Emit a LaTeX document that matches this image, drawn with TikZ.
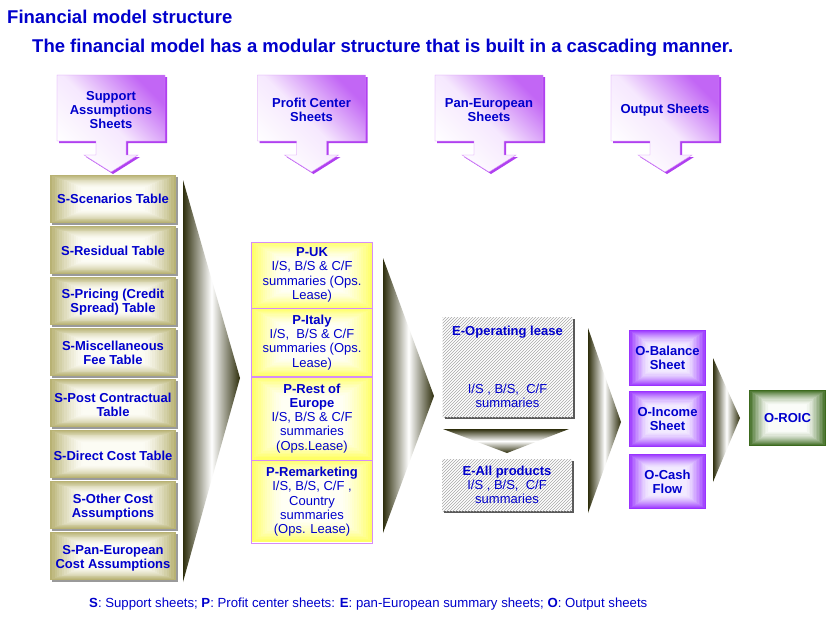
\documentclass[tikz,border=0pt]{standalone}
\usepackage{fontspec}
\setmainfont{Liberation Sans}
\usepackage{xcolor}
\usepackage{tikz}
\usetikzlibrary{positioning, patterns, shadows}
\definecolor{fmblue}{HTML}{0000CC}
\definecolor{fmviolet}{HTML}{C266F5}
\definecolor{fmvioletedge}{HTML}{B040F0}
\definecolor{fmpink}{HTML}{D68CF8}
\definecolor{fmkhaki}{HTML}{B8B274}
\definecolor{fmkhakilight}{HTML}{FCFCF4}
\definecolor{fmyellow}{HTML}{FFFF66}
\definecolor{fmyellowlight}{HTML}{FFFFF4}
\definecolor{fmpurple}{HTML}{9933FF}
\definecolor{fmpurplelight}{HTML}{F2EAFF}
\definecolor{fmgreen}{HTML}{3C6A1E}
\definecolor{fmgreenlight}{HTML}{FAFCF8}
\definecolor{fmdark}{HTML}{2E2E0C}
\definecolor{fmhatch}{HTML}{A8A8A8}
\definecolor{fmshadow}{HTML}{9A9A9A}

% soft bevelled box: x1, y1, x2, y2, edge colour, centre colour
\newcommand{\bevelrect}[6]{%
    \foreach \k in {0,...,24} {
        \pgfmathsetmacro\bvt{max(0,1-\k/14)}
        \pgfmathtruncatemacro\bvmix{100*\bvt*sqrt(\bvt)}
        \pgfmathsetmacro\bvdx{((#3)-(#1))*0.45*\k/24}
        \pgfmathsetmacro\bvdy{((#4)-(#2))*0.45*\k/24}
        \colorlet{bvtmp}{#5!\bvmix!#6}
        \fill[bvtmp] ({(#1)+\bvdx},{(#2)+\bvdy}) -- ({(#3)-\bvdx},{(#2)+\bvdy}) -- ({(#3)-\bvdx},{(#4)-\bvdy}) -- ({(#1)+\bvdx},{(#4)-\bvdy}) -- cycle;
    }}

\begin{document}
\begin{tikzpicture}[x=1pt, y=-1pt,
    hdtext/.style={align=center, font=\bfseries\fontsize{13}{14}\selectfont, text=fmblue},
    sbox/.style={rectangle, minimum width=126pt, minimum height=48pt, inner sep=1pt,
        align=center, font=\bfseries\fontsize{13}{14}\selectfont, text=fmblue},
    pbox/.style={rectangle, draw=fmpink, minimum width=121pt, inner sep=0pt, align=center,
        font=\fontsize{13}{14.3}\selectfont, text=fmblue},
    ebox/.style={rectangle, minimum width=130pt, inner sep=0pt,
        drop shadow={shadow xshift=2pt, shadow yshift=-2pt, fill=black!65, opacity=1},
        preaction={fill=white}, pattern=north east lines, pattern color=fmhatch,
        align=center, font=\fontsize{13}{14.3}\selectfont, text=fmblue},
    obox/.style={rectangle, minimum width=77pt, minimum height=56pt, inner sep=0pt,
        align=center, font=\bfseries\fontsize{13}{14}\selectfont, text=fmblue},
    funnel/.style={left color=fmdark, right color=fmdark, middle color=white}
]
    \useasboundingbox (0,0) rectangle (830,619);
    \fill[white] (0,0) rectangle (830,619);

    % Title
    \node[anchor=west, font=\bfseries\fontsize{18.5}{20}\selectfont, text=fmblue, inner sep=0pt] (title) at (7,17) {Financial model structure};
    \node[anchor=west, font=\bfseries\fontsize{18.5}{20}\selectfont, text=fmblue, inner sep=0pt] (subtitle) at (32,48) {The financial model has a modular structure that is built in a cascading manner.};

    % Header callouts
    \foreach \cx/\nm/\txt in {111/sup/{Support\\Assumptions\\Sheets}, 311.5/prof/{Profit Center\\Sheets}, 489/pan/{Pan-European\\Sheets}, 665/out/{Output Sheets}} {
        \fill[fmvioletedge, shift={(2,2)}] ({\cx-54},75) -- ({\cx+54},75) -- ({\cx+54},141) -- ({\cx+15},141) -- ({\cx+15},155) -- ({\cx+27},155) -- (\cx,172) -- ({\cx-27},155) -- ({\cx-15},155) -- ({\cx-15},141) -- ({\cx-54},141) -- cycle;
        \draw[fmpink, top color=fmviolet, bottom color=white, middle color=fmviolet!15, shading angle=-45] ({\cx-54},75) -- ({\cx+54},75) -- ({\cx+54},141) -- ({\cx+15},141) -- ({\cx+15},155) -- ({\cx+27},155) -- (\cx,172) -- ({\cx-27},155) -- ({\cx-15},155) -- ({\cx-15},141) -- ({\cx-54},141) -- cycle;
        \node[hdtext] (hd\nm) at (\cx,110) {\txt};
    }

    % Support sheets
    \foreach \i in {0,...,7} {
        \fill[fmshadow] (52,177+51*\i) rectangle (178,225+51*\i);
        \bevelrect{50}{175+51*\i}{176}{223+51*\i}{fmkhaki}{fmkhakilight}
    }
    \node[sbox] (sscen) at (113,199) {S-Scenarios Table};
    \node[sbox, below=3pt of sscen] (sresid) {S-Residual Table};
    \node[sbox, below=3pt of sresid] (spric) {S-Pricing (Credit\\Spread) Table};
    \node[sbox, below=3pt of spric] (smisc) {S-Miscellaneous\\Fee Table};
    \node[sbox, below=3pt of smisc] (spost) {S-Post Contractual\\Table};
    \node[sbox, below=3pt of spost] (sdirect) {S-Direct Cost Table};
    \node[sbox, below=3pt of sdirect] (sother) {S-Other Cost\\Assumptions};
    \node[sbox, below=3pt of sother] (span) {S-Pan-European\\Cost Assumptions};

    % Funnel 1
    \shade[funnel] (183,180) -- (240,378) -- (183,582) -- cycle;

    % Profit center sheets
    \bevelrect{251.5}{242}{372.5}{308}{fmyellow}{fmyellowlight}
    \bevelrect{251.5}{308}{372.5}{376}{fmyellow}{fmyellowlight}
    \bevelrect{251.5}{376}{372.5}{459}{fmyellow}{fmyellowlight}
    \bevelrect{251.5}{459}{372.5}{542}{fmyellow}{fmyellowlight}
    \node[pbox, minimum height=66pt] (puk) at (312,275) {\textbf{P-UK}\\I/S, B/S \& C/F\\summaries (Ops.\\Lease)};
    \node[pbox, minimum height=68pt, below=0pt of puk] (pit) {\textbf{P-Italy}\\I/S,\ \ B/S \& C/F\\summaries (Ops.\\Lease)};
    \node[pbox, minimum height=83pt, below=0pt of pit] (prest) {\textbf{P-Rest of}\\\textbf{Europe}\\I/S, B/S \& C/F\\summaries\\(Ops.Lease)};
    \node[pbox, minimum height=83pt, below=0pt of prest] (prem) {\textbf{P-Remarketing}\\I/S, B/S, C/F\ ,\\Country\\summaries\\(Ops. Lease)};

    % Funnel 2
    \shade[funnel] (383,258) -- (434,396) -- (383,533) -- cycle;

    % Pan-European sheets
    \node[ebox, minimum height=100pt] (eop) at (507.5,367) {\textbf{E-Operating lease}\\[43.5pt]I/S , B/S,\ \ C/F\\summaries};
    \shade[top color=fmdark, bottom color=fmdark, middle color=white] (443,429) -- (569,429) -- (507,453) -- cycle;
    \node[ebox, minimum height=52pt] (eall) at (507,485) {\textbf{E-All products}\\I/S , B/S,\ \ C/F\\summaries};

    % Funnel 3
    \shade[funnel] (588,328) -- (621,422) -- (588,513) -- cycle;

    % Output sheets
    \bevelrect{629}{330}{706}{386}{fmpurple}{fmpurplelight}
    \bevelrect{629}{391}{706}{447}{fmpurple}{fmpurplelight}
    \bevelrect{629}{454}{706}{509}{fmpurple}{fmpurplelight}
    \node[obox] (obal) at (667.5,358) {O-Balance\\Sheet};
    \node[obox] (oinc) at (667.5,419) {O-Income\\Sheet};
    \node[obox, minimum height=55pt] (ocash) at (667.5,481.5) {O-Cash\\Flow};

    % Funnel 4
    \shade[funnel] (713,358) -- (740,418) -- (713,482) -- cycle;

    \bevelrect{749}{390}{826}{446}{fmgreen}{fmgreenlight}
    \node[obox] (roic) at (787.5,418) {O-ROIC};

    % Legend
    \node[anchor=west, font=\fontsize{13.2}{15}\selectfont, text=fmblue, inner sep=0pt] (legend) at (89,604) {\textbf{S}: Support sheets; \textbf{P}: Profit center sheets: \textbf{E}: pan-European summary sheets; \textbf{O}: Output sheets};
\end{tikzpicture}
\end{document}
